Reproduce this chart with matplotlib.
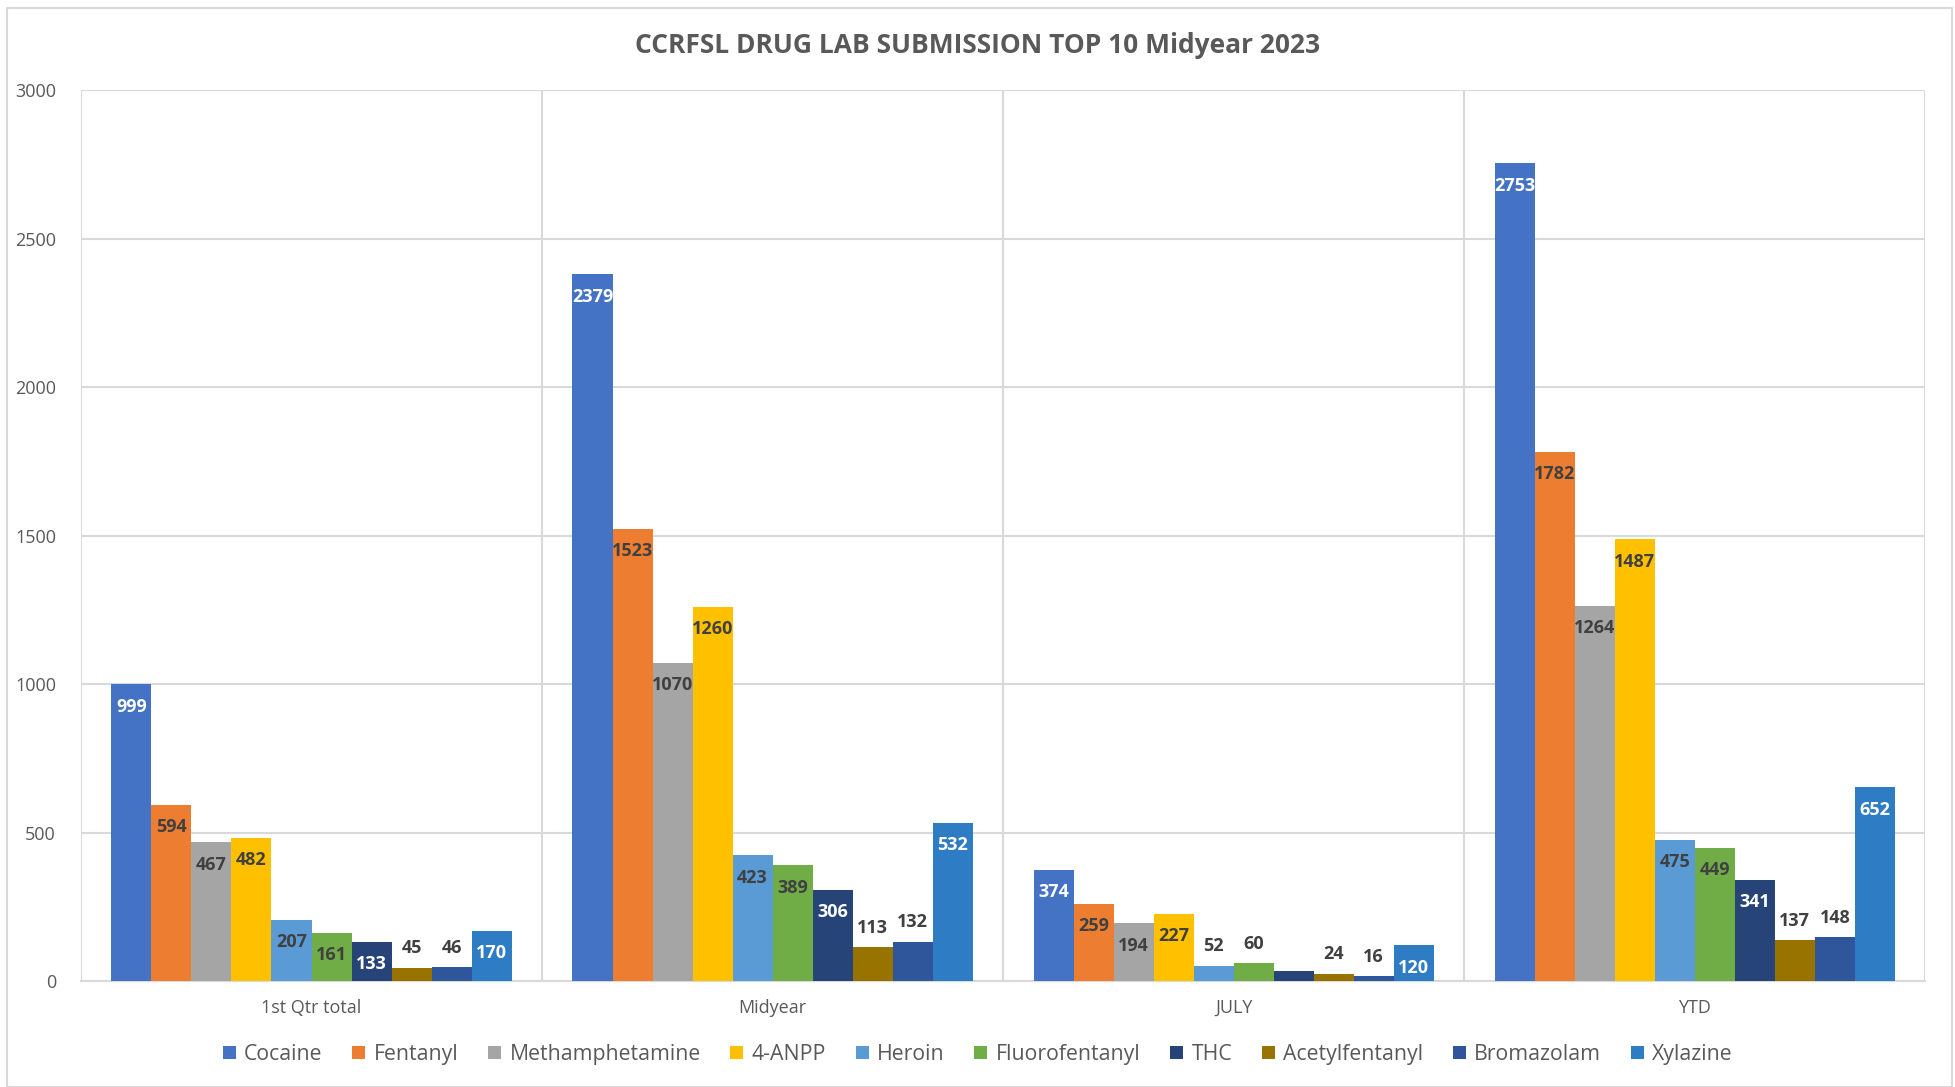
import numpy as np
import matplotlib.pyplot as plt
from matplotlib.patches import Rectangle

# Chart data
Categories = ['1st Qtr total', 'Midyear', 'JULY', 'YTD']
Drugs = ['Cocaine', 'Fentanyl', 'Methamphetamine', '4-ANPP', 'Heroin',
         'Fluorofentanyl', 'THC', 'Acetylfentanyl', 'Bromazolam', 'Xylazine']
Cocaine = [999, 2379, 374, 2753]
Fentanyl = [594, 1523, 259, 1782]
Methamphetamine = [467, 1070, 194, 1264]
ANPP = [482, 1260, 227, 1487]
Heroin = [207, 423, 52, 475]
Fluorofentanyl = [161, 389, 60, 449]
THC = [133, 306, 34, 341]
Acetylfentanyl = [45, 113, 24, 137]
Bromazolam = [46, 132, 16, 148]
Xylazine = [170, 532, 120, 652]
Values = [Cocaine, Fentanyl, Methamphetamine, ANPP, Heroin,
          Fluorofentanyl, THC, Acetylfentanyl, Bromazolam, Xylazine]

# Styling
Colors = ['#4472C4', '#ED7D31', '#A5A5A5', '#FFC000', '#5B9BD5',
          '#70AD47', '#264478', '#997300', '#2F559B', '#2E7CC3']
LabelColors = ['white', '#404040', '#404040', '#404040', '#404040',
               '#404040', 'white', '#404040', '#404040', 'white']
OutsideSeries = ['Acetylfentanyl', 'Bromazolam']
GridColor = '#d9d9d9'
TextColor = '#595959'
plt.rcParams['font.family'] = ['Open Sans', 'DejaVu Sans']

fig = plt.figure(figsize=(19.56, 10.87), dpi=100)
ax = fig.add_axes([0.0414, 0.0975, 0.9429, 0.8197])

BarWidth = 0.0868
x = np.arange(len(Categories)) + 0.5
for i, (Name, Vals) in enumerate(zip(Drugs, Values)):
    Pos = x + (i - 4.5) * BarWidth
    ax.bar(Pos, Vals, width=BarWidth, color=Colors[i], label=Name, zorder=3)
    for p, v in zip(Pos, Vals):
        # the small July THC bar carries no label in the original
        if Name == 'THC' and v < 50:
            continue
        if Name in OutsideSeries or v < 80:
            ax.annotate(str(v), xy=(p, v), xytext=(0, 14), textcoords='offset points',
                        ha='center', va='center', fontsize=13, fontweight='bold',
                        color='#404040', zorder=4)
        else:
            ax.annotate(str(v), xy=(p, v), xytext=(0, -16), textcoords='offset points',
                        ha='center', va='center', fontsize=13, fontweight='bold',
                        color=LabelColors[i], zorder=4)

ax.set_xlim(0, 4)
ax.set_ylim(0, 3000)
ax.set_yticks(np.arange(0, 3001, 500))
ax.set_xticks(x)
ax.set_xticklabels(Categories)
ax.tick_params(axis='both', length=0, colors=TextColor, labelsize=13)
ax.tick_params(axis='y', pad=18)
ax.tick_params(axis='x', pad=13)
ax.grid(axis='y', color=GridColor, linewidth=1.5, zorder=0)
for b in range(5):
    ax.axvline(b, color=GridColor, linewidth=1.5, zorder=0)
for s in ['top', 'right', 'left']:
    ax.spines[s].set_visible(False)
ax.spines['bottom'].set_color(GridColor)
ax.spines['bottom'].set_linewidth(1.5)

fig.text(0.5, 0.958, 'CCRFSL DRUG LAB SUBMISSION TOP 10 Midyear 2023', ha='center',
         va='center', fontsize=19, fontweight='bold', color=TextColor)

fig.legend(loc='center', bbox_to_anchor=(0.5, 0.03), ncol=10, frameon=False,
           fontsize=15.3, labelcolor=TextColor, handlelength=0.6, handleheight=0.6,
           handletextpad=0.4, columnspacing=1.4)

fig.patches.append(Rectangle((0.0035, 0.0), 0.9945, 0.993, transform=fig.transFigure,
                             fill=False, edgecolor=GridColor, linewidth=1.5))

plt.savefig('out.png', dpi=100)
